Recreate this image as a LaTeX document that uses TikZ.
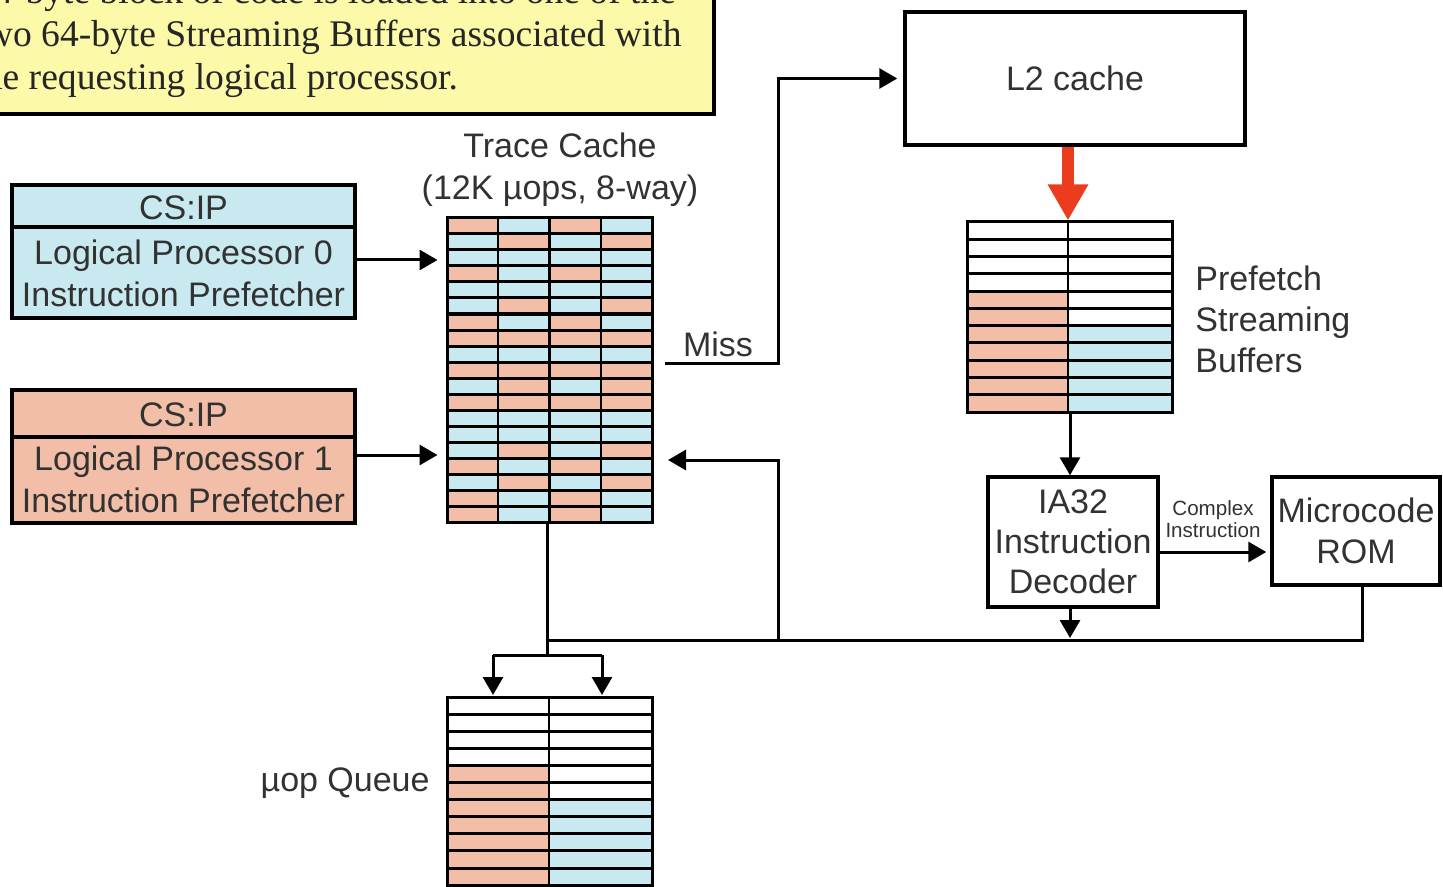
\documentclass[tikz,border=0pt]{standalone}
\usepackage{fontspec}
\setmainfont{Liberation Sans}
\newfontfamily\notefont{Liberation Serif}
\usetikzlibrary{arrows.meta}
\definecolor{tcb}{RGB}{200,233,240}
\definecolor{tco}{RGB}{242,190,168}
\definecolor{tcw}{RGB}{255,255,255}
\definecolor{noteyellow}{RGB}{252,250,168}
\definecolor{txt}{RGB}{50,50,50}
\definecolor{redarrow}{RGB}{235,60,30}
\tikzset{
  box/.style={draw=black, line width=1.75pt, inner sep=0pt, font=\fontsize{17}{20}\selectfont, text=txt, align=center},
  lbl/.style={font=\fontsize{17}{21}\selectfont, text=txt, align=center, inner sep=0pt},
  notetxt/.style={font=\notefont\fontsize{18.8}{21}\selectfont, text=black!85, anchor=base west, inner sep=0pt},
  conn/.style={line width=1.5pt, draw=black},
  arr/.style={conn, -{Triangle[length=9pt,width=10pt]}},
  redarr/.style={line width=6pt, draw=redarrow, -{Triangle[length=18pt,width=19pt]}},
  hline/.style={line width=1.5pt},
  vline/.style={line width=1.1pt}
}
\begin{document}
\begin{tikzpicture}[x=0.5pt,y=-0.5pt]
\useasboundingbox (0,0) rectangle (1443,887);
\clip (0,0) rectangle (1443,887);

% ---- note ----
\draw[line width=2.2pt, fill=noteyellow] (-40,-60) rectangle (714,114);
\node[notetxt] (note1) at (-25,4) {64-byte block of code is loaded into one of the};
\node[notetxt] (note2) at (-25,47) {two 64-byte Streaming Buffers associated with};
\node[notetxt] (note3) at (-27,90) {the requesting logical processor.};

% ---- logical processors ----
\node[box, fill=tcb, minimum width=171.5pt, minimum height=66.5pt] (lp0) at (183.5,251.5) {};
\draw[line width=1.75pt] (lp0.west |- 0,227) -- (lp0.east |- 0,227);
\node[lbl] (lp0cs) at (183.5,208) {CS:IP};
\node[lbl] (lp0name) at (183.5,273) {Logical Processor 0\\Instruction Prefetcher};

\node[box, fill=tco, minimum width=171.5pt, minimum height=66.5pt] (lp1) at (183.5,456.5) {};
\draw[line width=1.75pt] (lp1.west |- 0,437) -- (lp1.east |- 0,437);
\node[lbl] (lp1cs) at (183.5,415) {CS:IP};
\node[lbl] (lp1name) at (183.5,479) {Logical Processor 1\\Instruction Prefetcher};

% ---- trace cache ----
\foreach \row [count=\r from 0] in {{o,b,o,b},{b,o,b,o},{b,b,b,b},{o,b,o,b},{b,b,b,b},{b,o,b,o},{o,b,o,b},{o,o,o,o},{b,b,b,b},{o,o,o,o},{b,o,b,o},{o,o,o,o},{b,b,b,b},{b,b,b,b},{b,o,b,o},{o,b,o,b},{b,o,b,o},{o,b,o,b},{o,b,o,b}}{
  \foreach \c [count=\k from 0] in \row {
    \fill[fill=tc\c] ({447+51.25*\k},{218+16*\r}) rectangle ++(51.25,16);
  }
}
\foreach \r in {1,...,18} \draw[hline] (447,{218+16*\r}) -- (652,{218+16*\r});
\foreach \k in {1,2,3} \draw[vline] ({447+51.25*\k},218) -- ++(0,304);
\node[draw=black, line width=1.5pt, minimum width=102.5pt, minimum height=152pt, inner sep=0pt] (tc) at (549.5,370) {};
\node[lbl, text depth=0pt] (tctitle) at (560,166) {Trace Cache\\(12K µops, 8-way)};

\draw[arr, shorten >=4pt] (lp0.east |- 0,260) -- (tc.west |- 0,260);
\draw[arr, shorten >=4pt] (lp1.east |- 0,455) -- (tc.west |- 0,455);

% ---- L2 cache ----
\node[box, minimum width=170pt, minimum height=66.5pt] (l2) at (1075,78.5) {L2 cache};

\coordinate (missout) at (665,363);
\coordinate (misscorner) at (778,363);
\draw[arr, shorten >=3pt] (missout) -- (misscorner) |- (l2.west);
\node[lbl] (misslbl) at (718,344) {Miss};

% ---- prefetch streaming buffers ----
\foreach \r in {4,...,10} \fill[tco] (967,{222+17.27*\r}) rectangle (1068,{222+17.27*(\r+1)});
\foreach \r in {6,...,10} \fill[tcb] (1068,{222+17.27*\r}) rectangle (1172,{222+17.27*(\r+1)});
\foreach \r in {1,...,10} \draw[hline] (967,{222+17.27*\r}) -- (1172,{222+17.27*\r});
\draw[vline] (1068,222) -- (1068,412);
\node[draw=black, line width=1.5pt, minimum width=102.5pt, minimum height=95pt, inner sep=0pt] (pfb) at (1069.5,317) {};
\node[lbl, align=left, anchor=west] (pfblbl) at (1195,319) {Prefetch\\[-0.5pt]Streaming\\[-0.5pt]Buffers};

\draw[redarr] (l2.south -| 1068,0) -- (pfb.north -| 1068,0);

% ---- decoder / ROM ----
\node[box, minimum width=85pt, minimum height=65pt, font=\fontsize{17}{20}\selectfont] (ia32) at (1073,542) {IA32\\Instruction\\Decoder};
\node[box, minimum width=84pt, minimum height=54pt, font=\fontsize{17}{20.5}\selectfont] (mrom) at (1356,531) {Microcode\\ROM};
\draw[arr] (pfb.south -| 1070,0) -- (ia32.north -| 1070,0);
\draw[arr, shorten >=2pt] (ia32.east |- 0,552) -- (mrom.west |- 0,552);
\node[font=\fontsize{10.3}{11}\selectfont, text=txt, align=center, inner sep=0pt] (cplx) at (1213,519) {Complex\\Instruction};

% ---- bus ----
\coordinate (busL) at (547,640);
\coordinate (fbk) at (778,640);
\coordinate (tcin) at (668,460);
\coordinate (split) at (547,655);
\coordinate (splitL) at (493,655);
\coordinate (splitR) at (602,655);
\draw[arr, shorten >=1pt] (ia32.south -| 1070,0) -- (1070,640);
\draw[conn] (mrom.south -| 1362,0) |- (busL);
\draw[arr] (fbk) |- (tcin);
\draw[conn] (tc.south -| busL) -- (split);
\draw[conn] (splitL) -- (splitR);
\draw[arr] (splitL) -- (493,695);
\draw[arr] (splitR) -- (602,695);

% ---- uop queue ----
\foreach \r in {4,...,10} \fill[tco] (447,{697+17.1*\r}) rectangle (549,{697+17.1*(\r+1)});
\foreach \r in {6,...,10} \fill[tcb] (549,{697+17.1*\r}) rectangle (652,{697+17.1*(\r+1)});
\foreach \r in {1,...,10} \draw[hline] (447,{697+17.1*\r}) -- (652,{697+17.1*\r});
\draw[vline] (549,697) -- (549,885);
\node[draw=black, line width=1.5pt, minimum width=102.5pt, minimum height=94pt, inner sep=0pt] (uq) at (549.5,791) {};
\node[lbl, anchor=east] (uqlbl) at (430,783) {µop Queue};
\end{tikzpicture}
\end{document}
